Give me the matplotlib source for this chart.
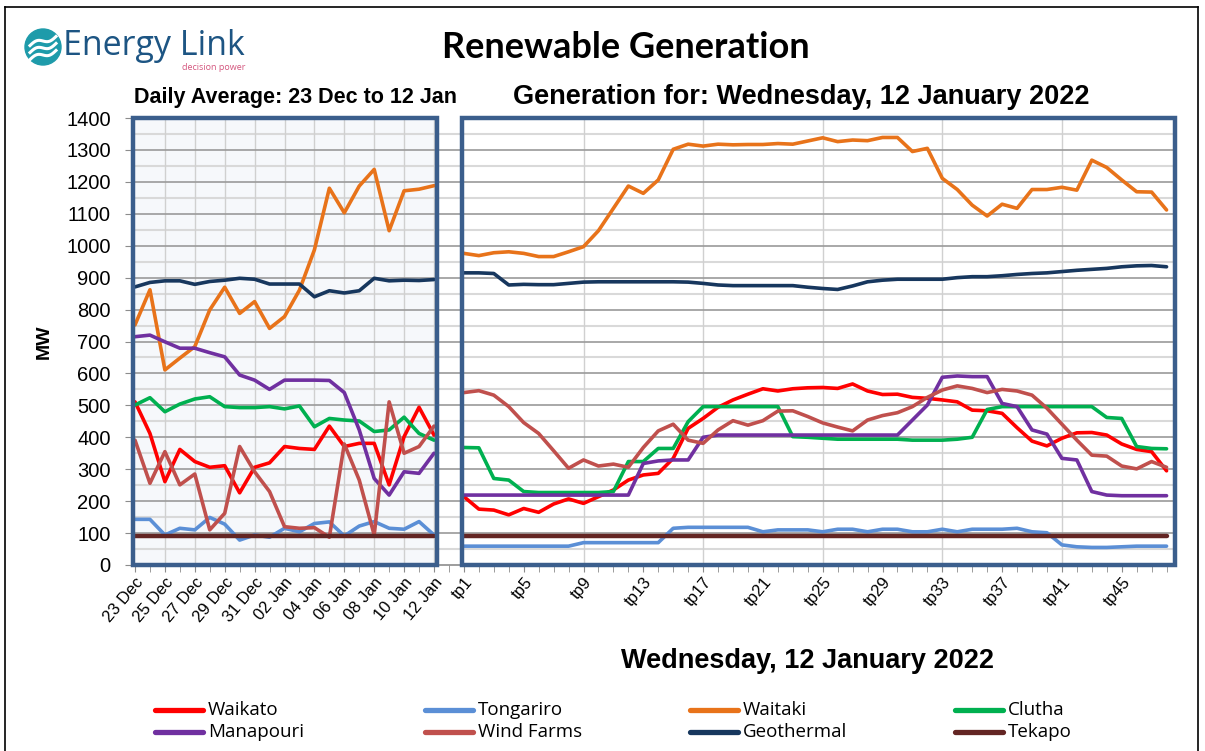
import numpy as np
import matplotlib.pyplot as plt
from matplotlib.patches import Rectangle, Circle
from matplotlib.lines import Line2D

# ---- data ----
day_labels = ['23 Dec', '24 Dec', '25 Dec', '26 Dec', '27 Dec', '28 Dec', '29 Dec',
              '30 Dec', '31 Dec', '01 Jan', '02 Jan', '03 Jan', '04 Jan', '05 Jan',
              '06 Jan', '07 Jan', '08 Jan', '09 Jan', '10 Jan', '11 Jan', '12 Jan']
tp_labels = ['tp%d' % i for i in range(1, 49)]

waikato_daily = [511, 412, 261, 362, 324, 306, 311, 226, 306, 320, 371,
                 365, 362, 435, 371, 381, 381, 251, 402, 494, 407]
tongariro_daily = [143, 143, 94, 115, 110, 149, 128, 78, 94, 87, 115,
                   104, 130, 135, 91, 122, 136, 115, 112, 136, 94]
waitaki_daily = [752, 862, 611, 648, 684, 799, 870, 788, 825, 741, 778,
                 861, 987, 1180, 1103, 1187, 1239, 1047, 1172, 1177, 1188]
clutha_daily = [501, 524, 480, 504, 520, 527, 496, 493, 493, 496, 489,
                498, 433, 459, 454, 451, 418, 423, 463, 412, 391]
manapouri_daily = [715, 720, 699, 679, 679, 665, 652, 595, 579, 550, 579,
                   579, 579, 578, 540, 423, 271, 219, 292, 287, 350]
wind_daily = [391, 256, 355, 251, 285, 110, 162, 371, 292, 230, 120,
              115, 117, 87, 379, 266, 94, 511, 350, 371, 435]
geothermal_daily = [871, 885, 890, 890, 879, 888, 892, 898, 895, 880, 880,
                    880, 840, 859, 852, 859, 898, 890, 892, 891, 894]
tekapo_daily = [90, 90, 90, 90, 90, 90, 90, 90, 90, 90, 90,
                90, 90, 90, 90, 90, 90, 90, 90, 90, 90]

waikato_tp = [214, 175, 172, 157, 177, 165, 191, 207, 193, 214,
              235, 266, 282, 287, 334, 428, 459, 494, 517, 535,
              552, 545, 552, 555, 556, 553, 567, 545, 534, 535,
              525, 522, 517, 511, 485, 483, 475, 430, 388, 373,
              397, 414, 415, 407, 379, 362, 355, 295]
tongariro_tp = [59, 59, 59, 59, 59, 59, 59, 59, 70, 70,
                70, 70, 70, 70, 115, 118, 118, 118, 118, 118,
                104, 110, 110, 110, 104, 112, 112, 104, 112, 112,
                104, 104, 112, 104, 112, 112, 112, 115, 104, 101,
                63, 57, 55, 55, 57, 59, 59, 59]
waitaki_tp = [976, 969, 978, 981, 976, 966, 966, 981, 997, 1047,
              1117, 1187, 1164, 1206, 1302, 1318, 1312, 1318, 1316, 1317,
              1317, 1320, 1318, 1328, 1338, 1326, 1331, 1329, 1339, 1339,
              1295, 1305, 1211, 1176, 1127, 1093, 1130, 1117, 1176, 1176,
              1183, 1174, 1268, 1245, 1206, 1169, 1168, 1112]
clutha_tp = [368, 367, 271, 266, 230, 227, 227, 227, 227, 227,
             230, 324, 324, 365, 365, 449, 496, 496, 496, 496,
             496, 496, 402, 400, 397, 394, 394, 394, 394, 394,
             391, 391, 391, 394, 400, 487, 496, 496, 496, 496,
             496, 496, 496, 462, 459, 371, 365, 364]
manapouri_tp = [219, 219, 219, 219, 219, 219, 219, 219, 219, 219,
                219, 219, 318, 326, 329, 329, 400, 407, 407, 407,
                407, 407, 407, 407, 407, 407, 407, 407, 407, 407,
                454, 501, 588, 592, 590, 590, 506, 496, 423, 410,
                334, 329, 230, 219, 217, 217, 217, 217]
wind_tp = [540, 546, 532, 496, 446, 412, 358, 303, 329, 310,
           316, 306, 368, 420, 441, 391, 381, 423, 452, 438,
           452, 482, 483, 465, 445, 432, 420, 454, 468, 477,
           496, 525, 548, 561, 553, 540, 550, 545, 532, 491,
           441, 391, 344, 341, 310, 301, 324, 306]
geothermal_tp = [915, 915, 913, 877, 879, 878, 878, 882, 886, 887,
                 887, 887, 887, 887, 887, 886, 882, 877, 875, 875,
                 875, 875, 875, 870, 866, 863, 874, 887, 892, 895,
                 895, 895, 895, 900, 903, 903, 906, 910, 913, 915,
                 919, 923, 926, 929, 934, 937, 938, 934]
tekapo_tp = [90, 90, 90, 90, 90, 90, 90, 90, 90, 90,
             90, 90, 90, 90, 90, 90, 90, 90, 90, 90,
             90, 90, 90, 90, 90, 90, 90, 90, 90, 90,
             90, 90, 90, 90, 90, 90, 90, 90, 90, 90,
             90, 90, 90, 90, 90, 90, 90, 90]

series = [
    ('Waikato', '#FF0000', waikato_daily, waikato_tp),
    ('Tongariro', '#5B8FD6', tongariro_daily, tongariro_tp),
    ('Waitaki', '#E8731A', waitaki_daily, waitaki_tp),
    ('Clutha', '#00B050', clutha_daily, clutha_tp),
    ('Manapouri', '#7030A0', manapouri_daily, manapouri_tp),
    ('Wind Farms', '#C0504D', wind_daily, wind_tp),
    ('Geothermal', '#17375E', geothermal_daily, geothermal_tp),
    ('Tekapo', '#632523', tekapo_daily, tekapo_tp),
]

W, H = 1205, 751
fig = plt.figure(figsize=(W / 100, H / 100), dpi=100)
plt.rcParams['font.family'] = ['Liberation Sans', 'DejaVu Sans']


def fx(px):
    return px / W


def fy(py):
    return 1 - py / H


# figure frame
for xs, ys in [((5, 1198), (7, 7)), ((5, 5), (7, 751)), ((1198, 1198), (7, 751))]:
    fig.add_artist(Line2D([fx(x) for x in xs], [fy(y) for y in ys], color='black', lw=1.2))

ax = fig.add_axes([fx(133), fy(565), fx(1175) - fx(133), fy(118) - fy(565)])

x_day = np.arange(len(day_labels))
x_tp = np.arange(len(tp_labels)) + 22
step = 14.95
x_lo, x_hi = (133 - 135) / step, (1175 - 135) / step
ax.set_xlim(x_lo, x_hi)
ax.set_ylim(0, 1400)

left_hi = (437 - 135) / step
right_lo = (462 - 135) / step

ax.add_patch(Rectangle((x_lo, 0), left_hi - x_lo, 1400, facecolor='#F6F8FB',
                       edgecolor='none', zorder=0.1))

# gridlines
for v in range(50, 1400, 100):
    ax.axhline(v, color='#D9D9D9', lw=1.5, zorder=0.5)
for v in range(100, 1400, 100):
    ax.axhline(v, color='#9A9A9A', lw=1.2, zorder=0.6)
for x in x_day[2::2]:
    ax.axvline(x, color='#D0D0D0', lw=1.0, zorder=0.5)
for x in x_tp[8::8]:
    ax.axvline(x, color='#D0D0D0', lw=1.0, zorder=0.5)

for name, color, daily, tp in series:
    lw = 3.2 if name == 'Tekapo' else 2.6
    ax.plot(x_day, daily, color=color, lw=lw, zorder=2, solid_capstyle='round')
    ax.plot(x_tp, tp, color=color, lw=lw, zorder=2, solid_capstyle='round')

# panel borders
for x0, x1 in [(x_lo, left_hi), (right_lo, x_hi)]:
    ax.add_patch(Rectangle((x0, 0), x1 - x0, 1400, facecolor='none',
                           edgecolor='#3B5E8C', lw=3.2, zorder=5, clip_on=False))

for s in ['top', 'right', 'left']:
    ax.spines[s].set_visible(False)
ax.spines['bottom'].set_color('#8C8C8C')
ax.spines['bottom'].set_linewidth(1.2)

ax.set_yticks(range(0, 1401, 100))
ax.tick_params(axis='y', length=6, color='#8C8C8C', labelsize=14.5, pad=10)

ticks = list(x_day) + [21] + list(x_tp)
ax.set_xticks(ticks, minor=True)
ax.tick_params(axis='x', which='minor', length=5, color='#8C8C8C')
lab_pos = list(x_day[::2]) + list(x_tp[::4])
lab_txt = day_labels[::2] + tp_labels[::4]
ax.set_xticks(lab_pos)
ax.set_xticklabels(lab_txt, rotation=50, ha='right', rotation_mode='anchor', fontsize=12)
ax.tick_params(axis='x', which='major', length=5, color='#8C8C8C', pad=2)

ax.set_ylabel('MW', fontsize=14, fontweight='bold', labelpad=10)

# titles
fig.text(fx(626), fy(47), 'Renewable Generation', fontsize=26, fontweight='bold',
         ha='center', va='center', family=['Lato', 'DejaVu Sans'])
fig.text(fx(295), fy(97), 'Daily Average: 23 Dec to 12 Jan', fontsize=15.5,
         fontweight='bold', ha='center', va='center')
fig.text(fx(801), fy(97), 'Generation for: Wednesday, 12 January 2022', fontsize=19.5,
         fontweight='bold', ha='center', va='center')
fig.text(fx(808), fy(661), 'Wednesday, 12 January 2022', fontsize=19.5,
         fontweight='bold', ha='center', va='center')

# logo
lax = fig.add_axes([fx(24), fy(66), fx(38), fx(38) * W / H])
lax.set_xlim(0, 38)
lax.set_ylim(0, 38)
lax.axis('off')
lax.add_patch(Circle((19, 19), 18, color='#1E9BAA'))
t = np.linspace(6, 32, 60)
for c in (11, 18, 25):
    lax.plot(t, c + 2.5 * np.sin((t - 6) / 26 * 2 * np.pi) + (t - 19) * 0.35,
             color='white', lw=2.2)
fig.text(fx(63), fy(46), 'Energy Link', fontsize=24.5, color='#1D5583',
         ha='left', va='center', family=['Open Sans', 'DejaVu Sans'])
fig.text(fx(245), fy(67), 'decision power', fontsize=6.5, color='#D4567E',
         ha='right', va='center', family=['Open Sans', 'DejaVu Sans'])

# legend
col_x = [155, 425, 690, 955]
row_y = [710, 732]
for i, (name, color, _, _) in enumerate(series):
    c, r = i % 4, i // 4
    x0 = col_x[c]
    y0 = row_y[r]
    fig.add_artist(Line2D([fx(x0), fx(x0 + 48)], [fy(y0), fy(y0)], color=color,
                          lw=3.8, solid_capstyle='round'))
    fig.text(fx(x0 + 53), fy(y0), name, fontsize=13.5, ha='left', va='center',
             family=['Open Sans', 'DejaVu Sans'])

fig.savefig('out.png', dpi=100)
